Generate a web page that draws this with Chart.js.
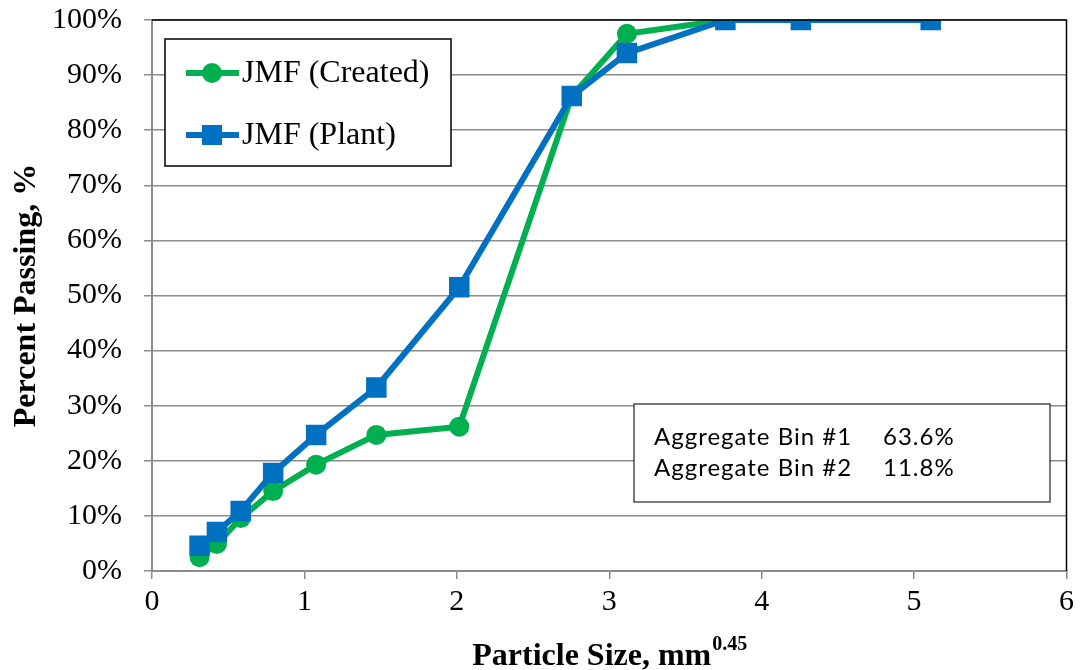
<!DOCTYPE html>
<html>
<head>
<meta charset="utf-8">
<script src="https://cdn.jsdelivr.net/npm/chart.js@4.4.1/dist/chart.umd.min.js"></script>
<style>
  html, body { margin: 0; padding: 0; background: #fff; }
  #wrap { width: 1081px; height: 670px; }
</style>
</head>
<body>
<div id="wrap"><canvas id="gradChart" width="1081" height="670"></canvas></div>
<script>
// Sieve sizes raised to the 0.45 power (mm^0.45)
const sieveX = [0.312, 0.426, 0.582, 0.795, 1.077, 1.472, 2.016, 2.754, 3.116, 3.762, 4.257, 5.109];

// Percent passing for each gradation
const createdPassing = [2.5, 4.9, 9.6, 14.5, 19.3, 24.7, 26.2, 86.2, 97.5, 100, 100, 100];
const plantPassing = [4.6, 7.1, 10.9, 17.8, 24.7, 33.3, 51.5, 86.2, 94.0, 100, 100, 100];

const seriesNames = ['JMF (Created)', 'JMF (Plant)'];
const binLabels = ['Aggregate Bin #1', 'Aggregate Bin #2'];
const binValues = ['63.6%', '11.8%'];

const green = '#00B050';
const blue = '#0070C0';
const gridGray = '#8c8c8c';

const toPoints = (xs, ys) => xs.map((x, i) => ({ x: x, y: ys[i] }));

// Legend box, bin text box, plot border and x title with superscript
const extrasPlugin = {
    id: 'extras',
    afterDraw(chart) {
        const ctx = chart.ctx;
        const area = chart.chartArea;
        ctx.save();

        // black top and right border of the plot area
        ctx.strokeStyle = '#000';
        ctx.lineWidth = 1.5;
        ctx.beginPath();
        ctx.moveTo(area.left, area.top);
        ctx.lineTo(area.right, area.top);
        ctx.lineTo(area.right, area.bottom);
        ctx.stroke();

        // legend
        ctx.fillStyle = '#fff';
        ctx.fillRect(165, 39, 286, 127);
        ctx.lineWidth = 1.5;
        ctx.strokeRect(165, 39, 286, 127);
        const rows = [
            { y: 73, color: green, shape: 'circle' },
            { y: 135, color: blue, shape: 'rect' }
        ];
        rows.forEach((r, i) => {
            ctx.strokeStyle = r.color;
            ctx.lineWidth = 6;
            ctx.beginPath();
            ctx.moveTo(186, r.y);
            ctx.lineTo(239, r.y);
            ctx.stroke();
            ctx.fillStyle = r.color;
            if (r.shape === 'circle') {
                ctx.beginPath();
                ctx.arc(212, r.y, 10, 0, Math.PI * 2);
                ctx.fill();
            } else {
                ctx.fillRect(202, r.y - 10, 20, 20);
            }
            ctx.fillStyle = '#000';
            ctx.font = '32px "Liberation Serif"';
            ctx.textBaseline = 'middle';
            ctx.textAlign = 'left';
            ctx.fillText(seriesNames[i], 242, r.y + 1);
        });

        // aggregate bin text box
        ctx.fillStyle = '#fff';
        ctx.fillRect(634, 404, 416, 98);
        ctx.strokeStyle = '#222';
        ctx.lineWidth = 1.2;
        ctx.strokeRect(634, 404, 416, 98);
        ctx.fillStyle = '#000';
        ctx.font = '24px Lato';
        ctx.letterSpacing = '1px';
        ctx.textBaseline = 'middle';
        binLabels.forEach((lab, i) => {
            ctx.fillText(lab, 654, 437 + i * 31);
            ctx.fillText(binValues[i], 883, 437 + i * 31);
        });
        ctx.letterSpacing = '0px';

        // x axis title with superscript exponent
        const main = 'Particle Size, mm';
        const sup = '0.45';
        ctx.font = 'bold 32px "Liberation Serif"';
        const w1 = ctx.measureText(main).width;
        ctx.font = 'bold 20px "Liberation Serif"';
        const w2 = ctx.measureText(sup).width;
        const x0 = (area.left + area.right) / 2 - (w1 + w2) / 2;
        ctx.textBaseline = 'alphabetic';
        ctx.font = 'bold 32px "Liberation Serif"';
        ctx.fillText(main, x0, 665);
        ctx.font = 'bold 20px "Liberation Serif"';
        ctx.fillText(sup, x0 + w1 + 1, 650);

        ctx.restore();
    }
};

const ctx = document.getElementById('gradChart').getContext('2d');
new Chart(ctx, {
    type: 'scatter',
    data: {
        datasets: [
            {
                label: seriesNames[0],
                data: toPoints(sieveX, createdPassing),
                showLine: true,
                borderColor: green,
                backgroundColor: green,
                borderWidth: 6,
                pointStyle: 'circle',
                pointRadius: 10,
                pointHoverRadius: 10,
                pointBorderWidth: 0,
                order: 1
            },
            {
                label: seriesNames[1],
                data: toPoints(sieveX, plantPassing),
                showLine: true,
                borderColor: blue,
                backgroundColor: blue,
                borderWidth: 6,
                pointStyle: 'rect',
                pointRadius: 14.5,
                pointHoverRadius: 14.5,
                pointBorderWidth: 0,
                order: 0
            }
        ]
    },
    options: {
        responsive: false,
        animation: false,
        layout: { padding: { top: 20, right: 13, left: 0, bottom: 0 } },
        plugins: {
            legend: { display: false },
            tooltip: { enabled: false }
        },
        scales: {
            x: {
                type: 'linear',
                min: 0,
                max: 6,
                afterFit(scale) {
                    scale.height = 99;
                    scale.paddingLeft = 0;
                    scale.paddingRight = 0;
                },
                ticks: {
                    stepSize: 1,
                    color: '#000',
                    padding: 5,
                    font: { family: '"Liberation Serif"', size: 30 }
                },
                grid: {
                    drawOnChartArea: false,
                    drawTicks: true,
                    tickLength: 8,
                    color: gridGray,
                    lineWidth: 1.5
                },
                border: { color: gridGray, width: 2 }
            },
            y: {
                min: 0,
                max: 100,
                afterFit(scale) {
                    scale.width = 152;
                    scale.paddingTop = 0;
                    scale.paddingBottom = 0;
                },
                ticks: {
                    stepSize: 10,
                    color: '#000',
                    padding: 22,
                    font: { family: '"Liberation Serif"', size: 30 },
                    callback: v => v + '%'
                },
                grid: {
                    color: gridGray,
                    lineWidth: 1.5,
                    tickLength: 8
                },
                border: { color: gridGray, width: 2 },
                title: {
                    display: true,
                    text: 'Percent Passing, %',
                    color: '#000',
                    padding: { top: 8, bottom: 0 },
                    font: { family: '"Liberation Serif"', size: 32, weight: 'bold' }
                }
            }
        }
    },
    plugins: [extrasPlugin]
});
</script>
</body>
</html>
